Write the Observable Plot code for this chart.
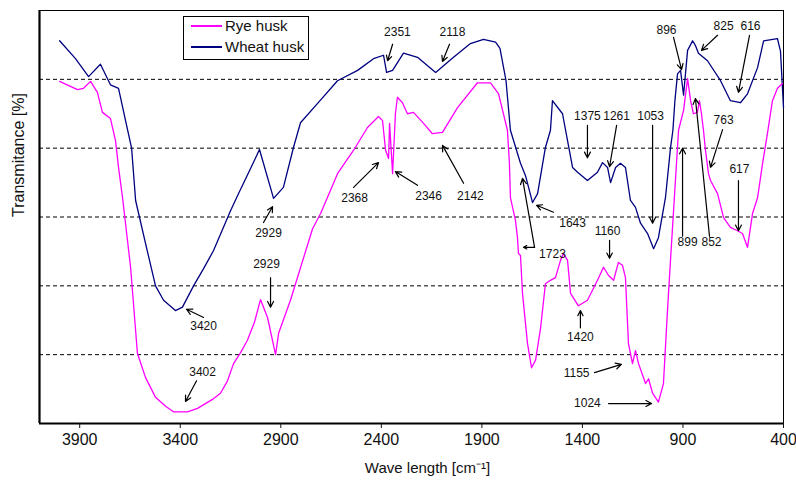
<!DOCTYPE html>
<html>
<head>
<meta charset="utf-8">
<script src="https://cdn.jsdelivr.net/npm/d3@7"></script>
<script src="https://cdn.jsdelivr.net/npm/@observablehq/plot@0.6"></script>
<style>
  html, body { margin: 0; padding: 0; background: #fff; }
  #wrap { position: relative; width: 796px; height: 481px; font-family: Arial, "Liberation Sans", sans-serif; }
  #legend { position: absolute; left: 183px; top: 16px; width: 124px; height: 42px; border: 1px solid #000; background: #fff; }
  .row { position: absolute; left: 0; height: 18px; width: 124px; }
  .sw { position: absolute; left: 7px; top: 8px; width: 31px; height: 2px; }
  .lab { position: absolute; left: 41px; top: 0; font-size: 15px; line-height: 18px; color: #111; white-space: nowrap; }
</style>
</head>
<body>
<div id="wrap">
  <div id="chart"></div>
  <div id="legend">
    <div class="row" style="top:0px"><div class="sw" style="background:#ff00ff"></div><div class="lab">Rye husk</div></div>
    <div class="row" style="top:21px"><div class="sw" style="background:#000080"></div><div class="lab">Wheat husk</div></div>
  </div>
</div>
<script>
// ---- data ----
const xTicks = [3900, 3400, 2900, 2400, 1900, 1400, 900, 400];
const gridLevels = [10, 20, 30, 40, 50];

const wheatWave = [4000,3921,3856,3797,3747,3707,3672,3642,3622,3573,3523,3483,3424,3389,3334,3284,3235,3150,3110,3051,3006,2936,2887,2837,2802,2717,2618,2518,2439,2389,2374,2344,2290,2220,2130,2041,1957,1892,1832,1810,1780,1758,1708,1683,1648,1623,1584,1559,1549,1499,1474,1449,1424,1375,1325,1300,1275,1260,1235,1211,1186,1161,1136,1111,1076,1046,1022,987,962,950,940,927,912,897,877,852,838,823,778,713,664,614,579,529,499,430,415,400];
const wheatT = [55.6,53.0,50.4,52.2,49.2,48.7,44.0,40.0,32.4,26.2,20.0,17.9,16.4,16.9,20.0,22.5,25.1,30.9,33.4,37.0,39.8,32.7,34.3,40.1,43.7,46.5,49.8,51.3,53.0,53.5,51.0,51.3,53.8,53.2,51.0,53.2,55.2,55.8,55.4,54.5,49.8,42.6,37.8,36.0,32.1,33.4,40.1,42.6,46.9,45.0,41.1,37.2,36.5,35.3,36.5,37.9,37.2,35.0,37.2,37.8,37.2,32.4,31.4,29.1,27.6,25.4,27.0,32.8,40.0,42.6,46.9,50.8,51.3,47.7,54.2,55.6,54.9,53.8,52.7,49.8,46.9,46.6,47.9,51.7,55.6,55.9,54.1,45.9];

const ryeWave = [4000,3911,3881,3846,3812,3787,3747,3722,3707,3687,3647,3613,3573,3523,3473,3434,3364,3314,3240,3200,3165,3135,3100,3066,3031,3001,2966,2926,2911,2852,2742,2702,2618,2538,2469,2414,2394,2379,2364,2359,2344,2330,2320,2295,2270,2240,2190,2146,2096,2021,1922,1857,1817,1773,1763,1758,1733,1723,1718,1708,1698,1673,1653,1633,1608,1584,1559,1534,1509,1494,1474,1459,1420,1375,1325,1295,1270,1245,1221,1201,1186,1171,1151,1136,1121,1086,1071,1051,1022,997,977,962,922,897,877,862,848,828,818,808,798,788,773,763,728,698,664,629,604,579,554,529,504,480,455,430,405];
const ryeT = [49.7,48.5,48.7,49.7,48.1,45.2,44.3,41.1,37.2,32.8,22.7,10.2,6.7,3.8,2.5,1.7,1.7,2.2,3.5,4.4,6.2,8.7,10.3,12.1,14.7,18.0,15.4,10.0,13.1,17.9,28.3,30.5,36.3,39.7,43.0,44.6,44.0,39.7,38.5,43.6,36.3,45.0,47.4,46.6,45.0,45.2,43.6,42.1,42.3,45.9,49.5,49.5,47.9,42.6,37.8,32.8,29.5,27.0,24.7,24.4,18.9,11.6,8.1,9.2,13.9,20.3,20.8,21.2,23.7,24.7,23.7,18.9,17.1,17.9,20.8,22.7,21.5,20.8,23.4,23.0,21.2,11.6,8.7,10.6,8.7,5.8,6.5,4.4,3.1,5.8,16.4,23.7,42.6,45.5,50.1,46.9,45.0,45.2,46.9,45.0,42.6,39.7,36.3,35.3,33.4,29.9,28.5,28.0,27.6,25.6,30.5,32.8,37.8,42.1,46.9,48.7,49.4];

const labelText = ["3420","3402","2929","2929","2368","2346","2142","2351","2118","1375","1261","1053","896","825","616","763","617","1643","1723","1160","1420","1155","1024","899","852"];
const labelWave = [3284,3289,2961,2971,2533,2165,1957,2320,2046,1375,1230,1061,982,698,564,698,619,1449,1549,1275,1410,1429,1375,877,758];
const labelT = [14.1,7.4,27.6,23.1,32.8,33.1,33.1,56.8,56.8,44.7,44.7,44.7,57.1,57.7,57.7,44.0,36.9,29.1,24.6,27.9,12.6,7.3,2.9,26.4,26.4];

const arrowFromWave = [3284,3319,2986,2951,2538,2220,1991,2344,2061,1375,1230,1051,947,728,569,703,624,1544,1638,1638,1265,1410,1340,1270,902,768];
const arrowFromT = [15.4,6.2,29.2,21.2,34.3,34.6,34.9,55.1,55.1,43.3,43.3,43.3,56.1,56.4,56.4,42.7,35.3,30.7,25.6,25.6,26.6,13.9,7.4,2.9,27.2,27.2];
const arrowToWave = [3369,3374,2941,2951,2414,2330,2096,2369,2096,1375,1265,1051,907,808,624,763,624,1628,1698,1693,1265,1410,1206,1056,902,838];
const arrowToT = [16.6,3.2,31.5,16.9,37.9,36.6,40.4,52.7,52.6,38.6,37.3,29.1,51.4,54.2,48.1,37.2,28.0,31.7,35.6,25.6,24.0,16.4,8.6,2.9,40.0,47.2];

// ---- build tables ----
const wheat = wheatWave.map((w, i) => ({wave: w, t: wheatT[i]}));
const rye = ryeWave.map((w, i) => ({wave: w, t: ryeT[i]}));
const labels = labelText.map((s, i) => ({text: s, wave: labelWave[i], t: labelT[i]}));
const arrows = arrowFromWave.map((w, i) => ({x1: w, y1: arrowFromT[i], x2: arrowToWave[i], y2: arrowToT[i]}));

const FONT = 'Arial, "Liberation Sans", sans-serif';

const chart = Plot.plot({
  width: 796,
  height: 481,
  marginLeft: 39,
  marginRight: 13,
  marginTop: 10,
  marginBottom: 58,
  style: {fontFamily: FONT, fontSize: "12px", background: "white", color: "#111", overflow: "visible"},
  x: {domain: [4100, 400]},
  y: {domain: [0, 60], axis: null},
  marks: [
    Plot.ruleY(gridLevels, {stroke: "#000", strokeWidth: 1, strokeDasharray: "4,3"}),
    Plot.frame({stroke: "#000", strokeWidth: 1}),
    Plot.ruleX([4100], {stroke: "#000", strokeWidth: 2.2}),
    Plot.ruleY([0], {stroke: "#000", strokeWidth: 2.2}),
    Plot.axisX({ticks: xTicks, tickSize: 5, tickPadding: 5, fontSize: 16, label: null, tickFormat: d => String(d)}),
    Plot.line(wheat, {x: "wave", y: "t", stroke: "#000080", strokeWidth: 1.3}),
    Plot.line(rye, {x: "wave", y: "t", stroke: "#ff00ff", strokeWidth: 1.3}),
    Plot.arrow(arrows, {x1: "x1", y1: "y1", x2: "x2", y2: "y2", stroke: "#000", strokeWidth: 1.2, headLength: 8, headAngle: 55}),
    Plot.text(labels, {x: "wave", y: "t", text: "text", fontSize: 12, fill: "#111"}),
    Plot.text(["Wave length [cm⁻¹]"], {text: d => d, frameAnchor: "bottom", dy: 49, dx: 16, fontSize: 15, fill: "#111"}),
    Plot.text(["Transmitance [%]"], {text: d => d, frameAnchor: "left", rotate: -90, dx: -21, fontSize: 16, fill: "#111"})
  ]
});
document.getElementById("chart").appendChild(chart);
</script>
</body>
</html>
